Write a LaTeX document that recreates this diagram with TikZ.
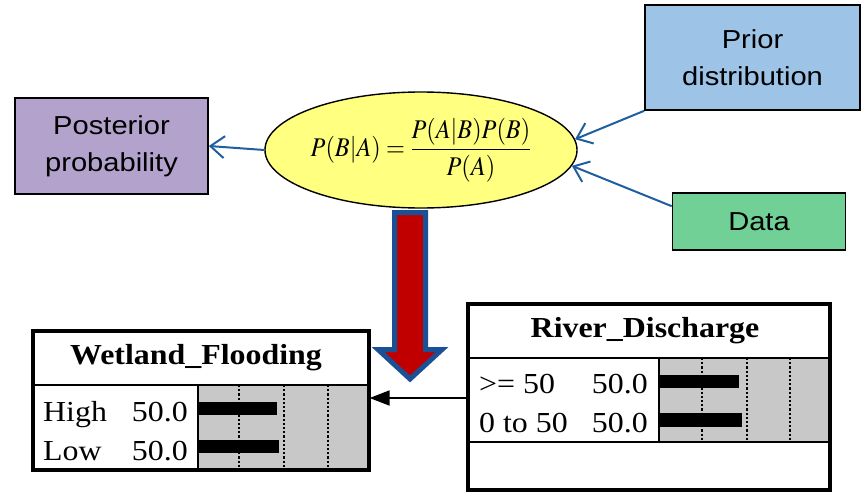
\documentclass[tikz,border=0pt]{standalone}
\usepackage{mathptmx}
\usepackage[no-math]{fontspec}
\setmainfont{Liberation Serif}[FakeStretch=1.1]
\setsansfont{Liberation Sans}[FakeStretch=1.12]
\usepackage{graphicx}
\usetikzlibrary{arrows.meta, positioning, shapes.geometric}

\definecolor{postpurple}{RGB}{179,162,204}
\definecolor{priorblue}{RGB}{157,195,230}
\definecolor{datagreen}{RGB}{112,208,150}
\definecolor{eqyellow}{RGB}{255,255,128}
\definecolor{linkblue}{RGB}{31,95,160}
\definecolor{bigred}{RGB}{192,0,0}
\definecolor{bigblue}{RGB}{25,80,150}
\definecolor{bargray}{RGB}{200,200,200}

\begin{document}
\begin{tikzpicture}[
    x=1pt, y=-1pt,
    box/.style={draw, line width=1.6pt, align=center, inner sep=0pt,
      font=\sffamily\fontsize{26}{37}\selectfont},
    eq/.style={ellipse, draw, line width=1.4pt, fill=eqyellow, inner sep=0pt,
      minimum width=288pt, minimum height=116pt},
    bluearrow/.style={-{Straight Barb[length=14pt, width=22pt]}, line width=2pt, color=linkblue},
    bigarrow/.style={draw=bigblue, line width=5pt, fill=bigred, line join=miter},
    netbox/.style={draw, line width=2.6pt, inner sep=0pt, fill=white},
    nettitle/.style={font=\bfseries\fontsize{29}{32}\selectfont},
    state/.style={font=\fontsize{29}{31}\selectfont, inner sep=0pt},
    bars/.style={fill=bargray},
    grid/.style={dash pattern=on 2.2pt off 2pt, line width=2.2pt},
    bar/.style={fill=black},
    divider/.style={line width=2.6pt},
    netarrow/.style={-{Triangle[length=20pt, width=15pt]}, line width=1.8pt},
  ]
  \useasboundingbox (0,0) rectangle (862,495);

  % Bayes formula and its inputs / output
  \node[eq] (bayes) at (421,150)
    {\scalebox{0.9}[1]{\fontsize{27}{30}\selectfont$\displaystyle P(B|A)=\frac{P(A|B)P(B)}{P(A)}$}};
  \node[box, fill=postpurple, minimum width=193pt, minimum height=96pt] (post) at (111.5,146) {Posterior\\probability};
  \node[box, fill=priorblue, minimum width=215pt, minimum height=105pt] (prior) at (752.5,57.5) {Prior\\distribution};
  \node[box, fill=datagreen, minimum width=173pt, minimum height=57pt] (data) at (759,221.5) {Data};

  \draw[bluearrow] (bayes.west) -- (post.east);
  \draw[bluearrow] (prior.south west) -- (bayes.4);
  \draw[bluearrow] ([yshift=-14pt]data.north west) -- (bayes.-6);

  % Big arrow down to the network
  \path[bigarrow] (394.5,212.5) -- (425.5,212.5) -- (425.5,349.5) -- (442,349.5)
    -- (410,379) -- (378,349.5) -- (394.5,349.5) -- cycle;

  % Wetland_Flooding node
  \node[netbox, anchor=north west, minimum width=335pt, minimum height=138pt] (wet) at (32,330) {};
  \node[nettitle] (wettitle) at (196,358) {Wetland\_Flooding};
  \fill[bars] (198,385) rectangle (367,468);
  \foreach \gx in {239,284,328}
    \draw[grid] (\gx,385) -- (\gx,468);
  \fill[bar] (198,402) rectangle (277,415);
  \fill[bar] (198,440) rectangle (279,453);
  \draw[divider] (198,385) -- (198,468);
  \draw[divider] (wet.west |- 0,385) -- (370,385);
  \draw[line width=2.6pt] (wet.north west) rectangle (wet.south east);
  \node[state, anchor=base west] (wethigh) at (43,421) {High};
  \node[state, anchor=base east] (wethighval) at (188,421) {50.0};
  \node[state, anchor=base west] (wetlow) at (43,460) {Low};
  \node[state, anchor=base east] (wetlowval) at (188,460) {50.0};

  % River_Discharge node
  \node[netbox, anchor=north west, minimum width=361pt, minimum height=185pt] (river) at (467,303) {};
  \node[nettitle] (rivertitle) at (645,331) {River\_Discharge};
  \fill[bars] (659,358) rectangle (828,442);
  \foreach \gx in {702,747,790}
    \draw[grid] (\gx,358) -- (\gx,442);
  \fill[bar] (659,375) rectangle (739,388);
  \fill[bar] (659,413) rectangle (742,427);
  \draw[divider] (659,358) -- (659,442);
  \draw[divider] (river.west |- 0,358) -- (832,358);
  \draw[divider] (river.west |- 0,442) -- (832,442);
  \draw[line width=2.6pt] (river.north west) rectangle (river.south east);
  \node[state, anchor=base west] (riverhigh) at (479,393) {>= 50};
  \node[state, anchor=base east] (riverhighval) at (648,393) {50.0};
  \node[state, anchor=base west] (riverlow) at (479,432) {0 to 50};
  \node[state, anchor=base east] (riverlowval) at (648,432) {50.0};

  % Link between the network nodes
  \coordinate (link) at (0,398);
  \draw[netarrow] (river.west |- link) -- (wet.east |- link);
\end{tikzpicture}
\end{document}
